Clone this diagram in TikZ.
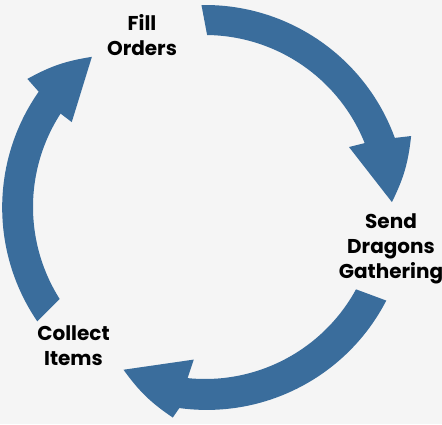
\documentclass[tikz,border=0pt]{standalone}
\usepackage{fontspec}
\setmainfont{Poppins}
\definecolor{RingBlue}{RGB}{58,109,156}
\definecolor{PageGrey}{RGB}{245,245,245}
\usepackage{tikz}

\begin{document}
\begin{tikzpicture}[x=1pt, y=1pt]
		\tikzstyle{every node}=[align=center, font=\fontsize{20}{25}\selectfont\bfseries, text=black];
		\tikzstyle{ringarrow}=[fill=RingBlue, draw=none];
		\fill[PageGrey] (-205,-217) rectangle (237,207);
		\useasboundingbox (-205,-217) rectangle (237,207);
		% three block arrows round the ring
		\fill[ringarrow] (91:202) arc[start angle=91, end angle=20, radius=202] -- (19:218) to[bend left=10] (1.5:187) -- (22.6:156) -- (21.8:172) arc[start angle=21.8, end angle=89.3, radius=172] -- cycle;
		\fill[ringarrow] (-27.3:204) arc[start angle=-27.3, end angle=-97.8, radius=202] -- (-98.7:213) to[bend left=10] (-116.6:182) -- (-94.2:153) -- (-95.8:172) arc[start angle=-95.8, end angle=-28.6, radius=172] -- cycle;
		\fill[ringarrow] (214.3:203) arc[start angle=214.3, end angle=145, radius=202] -- (144.2:219) to[bend left=10] (127:188) -- (147.5:158) -- (147.1:172) arc[start angle=147.1, end angle=212.3, radius=172] -- cycle;
		% labels
		\node (fill) at (-63,172) {Fill\\Orders};
		\node (send) at (186,-42) {Send\\Dragons\\Gathering};
		\node (collect) at (-131.5,-139) {Collect\\Items};
	\end{tikzpicture}
\end{document}
